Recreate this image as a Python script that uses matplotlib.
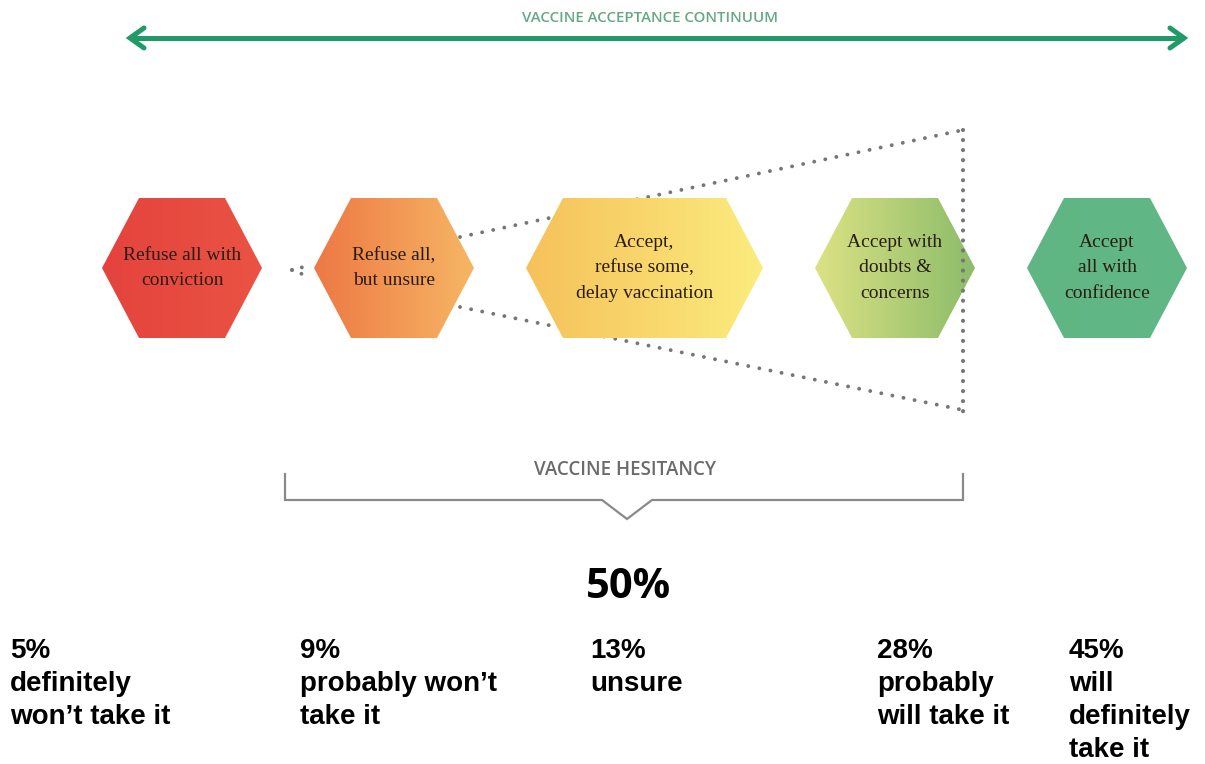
import numpy as np
import matplotlib
matplotlib.use("Agg")
import matplotlib.pyplot as plt
from matplotlib.patches import Polygon
from matplotlib.colors import to_rgb

# ---------------- data ----------------
stage_labels = [
    "Refuse all with\nconviction",
    "Refuse all,\nbut unsure",
    "Accept,\nrefuse some,\ndelay vaccination",
    "Accept with\ndoubts &\nconcerns",
    "Accept\nall with\nconfidence",
]
survey_pcts = [5, 9, 13, 28, 45]
survey_labels = [
    "definitely\nwon\u2019t take it",
    "probably won\u2019t\ntake it",
    "unsure",
    "probably\nwill take it",
    "will\ndefinitely\ntake it",
]
hesitant_idx = [1, 2, 3]
hesitancy_total = sum(survey_pcts[i] for i in hesitant_idx)

title_text = "VACCINE ACCEPTANCE CONTINUUM"
bracket_text = "VACCINE HESITANCY"

# ---------------- styles / layout ----------------
grad_left = ["#e4433d", "#ee7844", "#f6c15a", "#dce283", "#5fb683"]
grad_right = ["#ea5343", "#f6b664", "#fbec7e", "#8cbc6a", "#62b786"]
hex_widths = [160, 160, 237, 160, 160]
hex_h = 140
hex_inset = 37
hex_start = 102
hex_gap = 52
hex_cy = 268
label_x = [10, 300, 590, 877, 1069]
label_base = 658
label_step = 33

W, H = 1205, 764
fig = plt.figure(figsize=(W / 100, H / 100), dpi=100)
ax = fig.add_axes([0, 0, 1, 1])
ax.axis("off")

# hex geometry
lefts = []
x = hex_start
for w in hex_widths:
    lefts.append(x)
    x += w + hex_gap
rights = [l + w for l, w in zip(lefts, hex_widths)]
centers = [(l + r) / 2 for l, r in zip(lefts, rights)]

def hex_pts(l, r, cy):
    return [(l, cy), (l + hex_inset, cy - hex_h / 2), (r - hex_inset, cy - hex_h / 2),
            (r, cy), (r - hex_inset, cy + hex_h / 2), (l + hex_inset, cy + hex_h / 2)]

# top arrow (continuum)
green = "#1f9a68"
ax.plot([rights[-1] - 3, lefts[0] + 28], [38, 38], color=green, lw=3.6,
        solid_capstyle="butt", zorder=2)
ax.plot([lefts[0] + 42, lefts[0] + 28, lefts[0] + 42], [28, 38, 48], color=green,
        lw=3.6, solid_joinstyle="miter", solid_capstyle="round", zorder=2)
ax.plot([rights[-1] - 17, rights[-1] - 3, rights[-1] - 17], [28, 38, 48], color=green,
        lw=3.6, solid_joinstyle="miter", solid_capstyle="round", zorder=2)
ax.text(650, 22, title_text, ha="center", va="baseline", color="#64a886",
        fontsize=10.8, family="Open Sans", weight="semibold")

# dotted funnel lines (behind hexes)
dot_col = "#767676"
vx = 963
l2 = rights[1] - 14
ax.plot([l2, vx], [237, 130], color=dot_col, lw=2.8, ls=(0, (0.01, 2.9)),
        dash_capstyle="round", zorder=1)
ax.plot([l2, vx], [307, 410], color=dot_col, lw=2.8, ls=(0, (0.01, 2.9)),
        dash_capstyle="round", zorder=1)
# small connector between first two hexes
ax.plot([292, 307], [270, 266], color=dot_col, lw=2.8, ls=(0, (0.01, 2.6)),
        dash_capstyle="round", zorder=1)
ax.plot([292, 307], [270, 276], color=dot_col, lw=2.8, ls=(0, (0.01, 2.6)),
        dash_capstyle="round", zorder=1)

# hexagons with gradients
for i, (l, r) in enumerate(zip(lefts, rights)):
    pts = hex_pts(l, r, hex_cy)
    poly = Polygon(pts, closed=True, facecolor="none", edgecolor="none", zorder=3)
    ax.add_patch(poly)
    c0 = np.array(to_rgb(grad_left[i]))
    c1 = np.array(to_rgb(grad_right[i]))
    t = np.linspace(0, 1, 256)[None, :, None]
    grad = c0[None, None, :] * (1 - t) + c1[None, None, :] * t
    im = ax.imshow(grad, extent=(l, r, hex_cy + hex_h / 2, hex_cy - hex_h / 2),
                   aspect="auto", interpolation="bilinear", zorder=3)
    im.set_clip_path(poly)
    ax.text(centers[i], hex_cy, stage_labels[i], ha="center", va="center",
            multialignment="center", fontsize=14, family="Liberation Serif",
            color="#2a1c12", linespacing=1.65, zorder=5)

# vertical dotted line (on top)
ax.plot([vx, vx], [130, 412], color=dot_col, lw=3.0, ls=(0, (0.01, 2.4)),
        dash_capstyle="round", zorder=4)

# hesitancy bracket
br_col = "#8a8a8a"
bl, brx = 285, 963
by_top, by = 474, 500
nx = 627
ax.plot([bl, bl, nx - 25, nx, nx + 25, brx, brx],
        [by_top, by, by, by + 19, by, by, by_top],
        color=br_col, lw=1.6, solid_joinstyle="miter", zorder=2)
ax.text(nx - 2, 475, bracket_text, ha="center", va="baseline", color="#6b6b6b",
        fontsize=13.5, family="Open Sans", weight="semibold")

ax.text(nx + 2, 598, f"{hesitancy_total}%", ha="center", va="baseline",
        color="black", fontsize=30, family="Open Sans", weight="bold")

# survey labels: one line per text, baselines on a fixed step
for xl, p, lab in zip(label_x, survey_pcts, survey_labels):
    lines = [f"{p}%"] + lab.split("\n")
    for k, line in enumerate(lines):
        ax.text(xl, label_base + k * label_step, line, ha="left", va="baseline",
                fontsize=20, family="Liberation Sans", weight="bold", color="black")

ax.set_xlim(0, W)
ax.set_ylim(H, 0)
fig.savefig("out.png", dpi=100, facecolor="white")
